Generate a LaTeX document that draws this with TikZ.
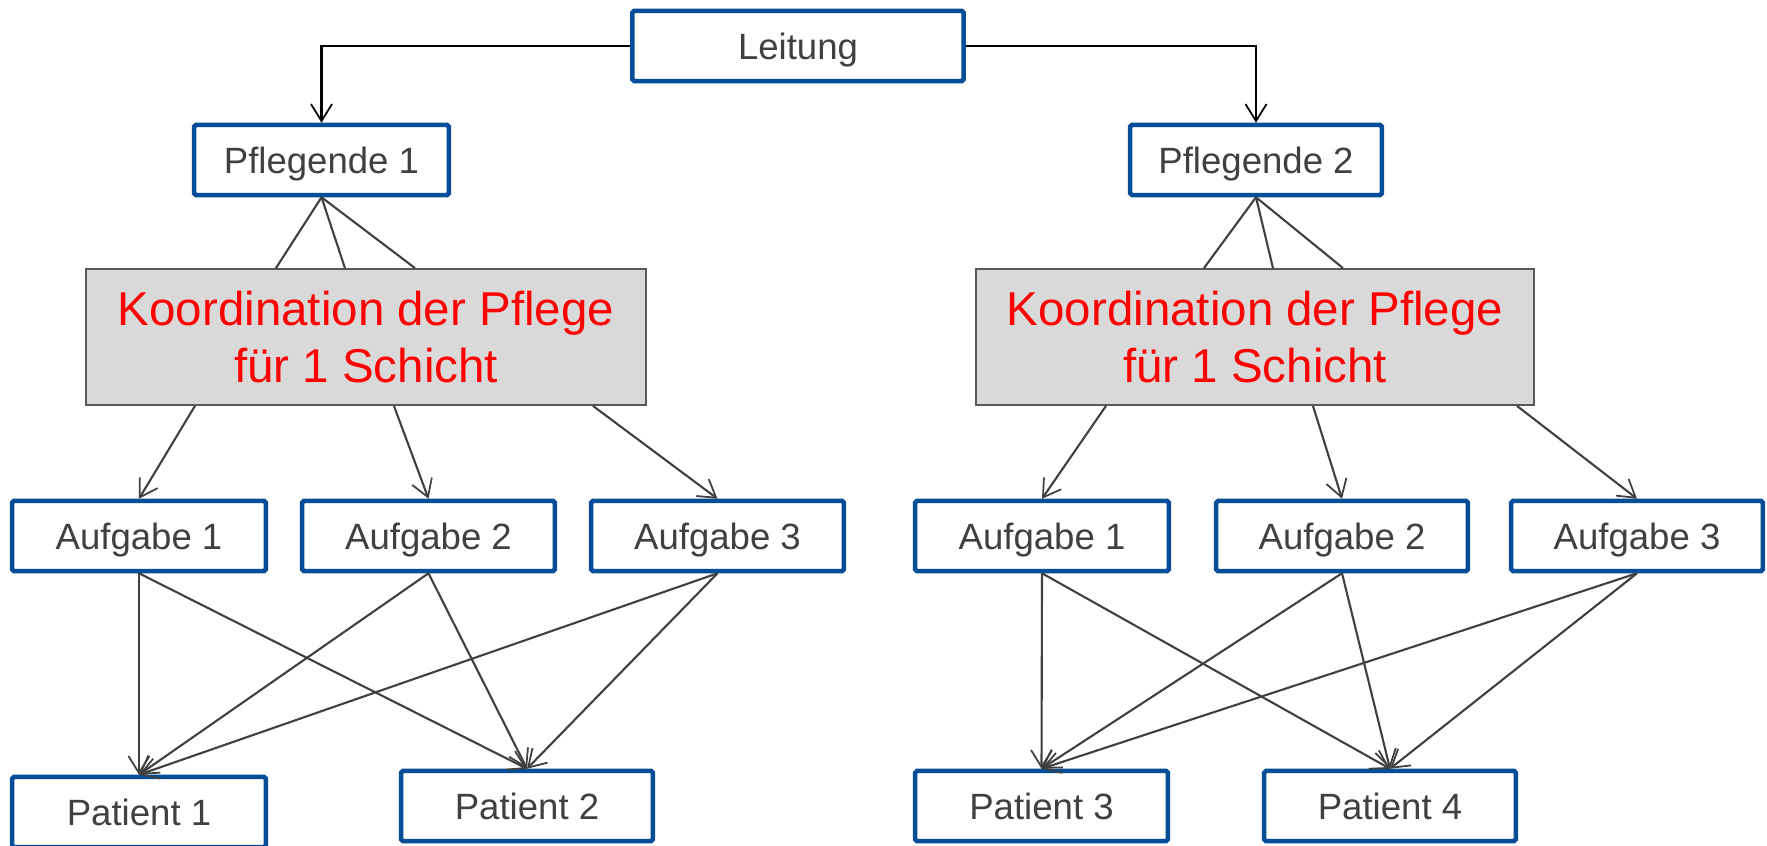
\documentclass[tikz,border=0pt]{standalone}
\usepackage{fontspec}
\setmainfont{Liberation Sans}
\usetikzlibrary{arrows.meta,calc}

\definecolor{boxblue}{RGB}{4,78,152}
\definecolor{textgray}{RGB}{64,64,64}
\definecolor{linegray}{RGB}{64,64,64}
\definecolor{panelgray}{RGB}{217,217,217}
\definecolor{panelborder}{RGB}{89,89,89}

\tikzset{
  bluebox/.style={draw=boxblue, line width=0.045cm, fill=white, inner sep=0pt,
    rounded corners=0.5pt, text depth=0pt,
    minimum height=0.70cm, text=textgray, font=\fontsize{10.4}{12}\selectfont},
  coordbox/.style={draw=panelborder, line width=0.5pt, fill=panelgray, inner sep=0pt,
    minimum width=5.58cm, minimum height=1.36cm, text=red, align=center,
    font=\fontsize{13.5}{16}\selectfont},
  open tip/.tip={Straight Barb[length=1.7mm, width=2.1mm, line width=0.5pt]},
  leadline/.style={draw=black, line width=0.6pt, -open tip},
  plainline/.style={draw=linegray, line width=0.6pt},
  arrowline/.style={draw=linegray, line width=0.6pt, -open tip},
}

\begin{document}
\begin{tikzpicture}[x=0.01cm, y=-0.01cm]
  \useasboundingbox (0,0) rectangle (1767,846);

  % top level
  \node[bluebox, minimum width=3.31cm] (lead) at (798,46) {Leitung};

  % nurses
  \node[bluebox, minimum width=2.545cm] (pfl1) at (321.5,160) {Pflegende 1};
  \node[bluebox, minimum width=2.515cm] (pfl2) at (1256,160) {Pflegende 2};

  % coordination panels
  \node[coordbox, minimum width=5.60cm] (koo1) at (366,337) {Koordination der Pflege\\für 1 Schicht};
  \node[coordbox] (koo2) at (1255,337) {Koordination der Pflege\\für 1 Schicht};

  % tasks, left group
  \node[bluebox, minimum width=2.535cm] (a11) at (139,536)   {Aufgabe 1};
  \node[bluebox, minimum width=2.525cm] (a12) at (428.5,536) {Aufgabe 2};
  \node[bluebox, minimum width=2.525cm] (a13) at (717.5,536) {Aufgabe 3};
  % tasks, right group
  \node[bluebox, minimum width=2.535cm] (a21) at (1042,536)  {Aufgabe 1};
  \node[bluebox, minimum width=2.515cm] (a22) at (1342,536)  {Aufgabe 2};
  \node[bluebox, minimum width=2.515cm] (a23) at (1637,536)  {Aufgabe 3};

  % patients
  \node[bluebox, minimum width=2.535cm] (pat1) at (139,812)  {Patient 1};
  \node[bluebox, minimum width=2.515cm] (pat2) at (527,806)    {Patient 2};
  \node[bluebox, minimum width=2.525cm] (pat3) at (1041.5,806) {Patient 3};
  \node[bluebox, minimum width=2.515cm] (pat4) at (1390,806)   {Patient 4};

  % management to nurses
  \draw[leadline] (lead.west) -| (pfl1.north);
  \draw[leadline] (lead.east) -| (pfl2.north);

  % nurses to coordination panels
  \foreach \dx in {191,260,330}
    \draw[plainline] (pfl1.south) -- ($(koo1.north west)+(\dx,0)$);
  \foreach \dx in {229,298,368}
    \draw[plainline] (pfl2.south) -- ($(koo2.north west)+(\dx,0)$);

  % coordination panels to tasks
  \draw[arrowline] ($(koo1.south west)+(110,0)$) -- (a11.north);
  \draw[arrowline] ($(koo1.south west)+(309,0)$) -- (a12.north);
  \draw[arrowline] ($(koo1.south west)+(508,0)$) -- (a13.north);
  \draw[arrowline] ($(koo2.south west)+(131,0)$) -- (a21.north);
  \draw[arrowline] ($(koo2.south west)+(338,0)$) -- (a22.north);
  \draw[arrowline] ($(koo2.south west)+(542,0)$) -- (a23.north);

  % tasks to patients
  \foreach \t in {a11,a12,a13}{
    \draw[arrowline] (\t.south) -- (pat1.north);
    \draw[arrowline] (\t.south) -- (pat2.north);
  }
  \foreach \t in {a21,a22,a23}{
    \draw[arrowline] (\t.south) -- (pat3.north);
    \draw[arrowline] (\t.south) -- (pat4.north);
  }
\end{tikzpicture}
\end{document}
